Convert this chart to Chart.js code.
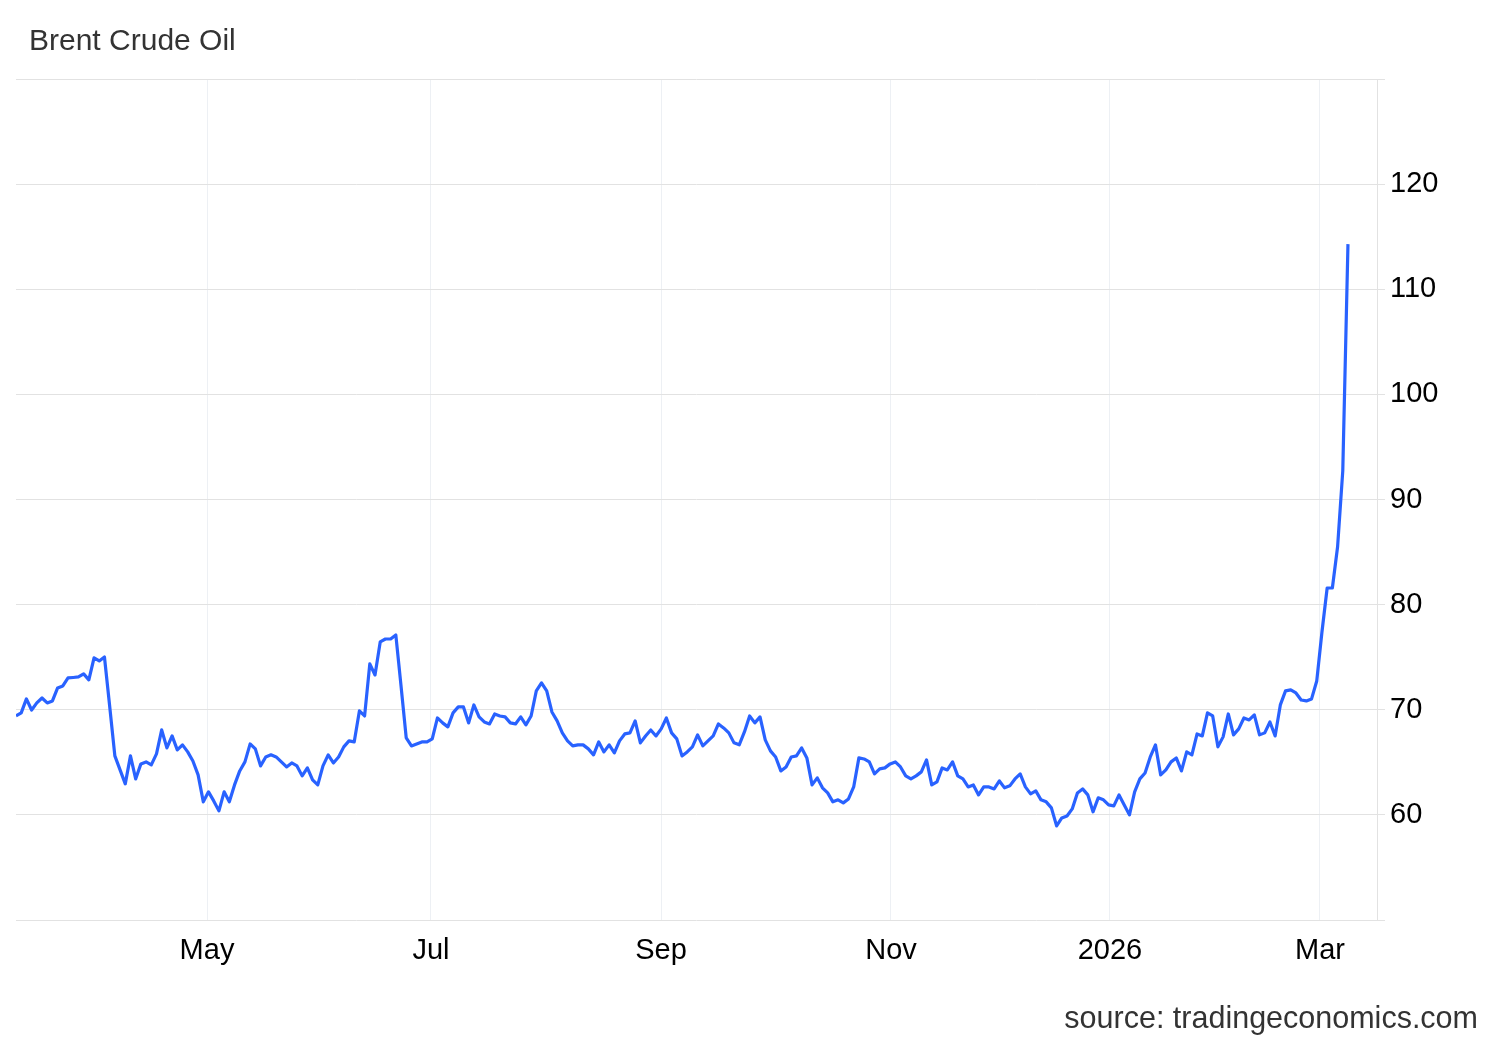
<!DOCTYPE html>
<html>
<head>
<meta charset="utf-8">
<script src="https://cdn.jsdelivr.net/npm/chart.js@4/dist/chart.umd.min.js"></script>
<style>
html,body{margin:0;padding:0;background:#fff;}
#wrap{position:relative;width:1500px;height:1040px;overflow:hidden;}
canvas{position:absolute;left:0;top:0;}
.title{position:absolute;left:29px;top:24.6px;font:30px/30px "Liberation Sans",Arial,Helvetica,sans-serif;color:#333;white-space:nowrap;}
.source{position:absolute;right:22px;top:1001.5px;font:30.5px/30px "Liberation Sans",Arial,Helvetica,sans-serif;color:#333;white-space:nowrap;}
</style>
</head>
<body>
<div id="wrap">
  <canvas id="c" width="1500" height="1040"></canvas>
  <div class="title">Brent Crude Oil</div>
  <div class="source">source: tradingeconomics.com</div>
</div>
<script>
// Brent Crude Oil, daily closes (USD/bbl), by period
const pricesMarApr2025 = [69.41, 69.70, 71.03, 69.98, 70.65, 71.12, 70.65, 70.84, 72.08, 72.27, 73.03, 73.07, 73.12, 73.41, 72.84, 74.93, 74.64, 75.02, 70.36, 65.61, 64.28, 62.95, 65.61, 63.42, 64.85, 65.04, 64.75, 65.80, 68.08, 66.37, 67.51, 66.18, 66.66, 65.99, 65.13, 63.80, 61.24];
const pricesMayJun2025 = [62.19, 61.33, 60.38, 62.19, 61.24, 62.85, 64.18, 65.04, 66.75, 66.28, 64.66, 65.51, 65.71, 65.51, 65.04, 64.56, 64.94, 64.66, 63.71, 64.47, 63.33, 62.85, 64.66, 65.71, 64.94, 65.51, 66.47, 67.04, 66.94, 69.89, 69.41, 74.36, 73.31, 76.45, 76.73, 76.73, 77.12, 72.27, 67.32, 66.56, 66.75, 66.94, 66.94];
const pricesJulAug2025 = [67.23, 69.22, 68.75, 68.37, 69.70, 70.27, 70.27, 68.75, 70.46, 69.32, 68.84, 68.65, 69.60, 69.41, 69.32, 68.75, 68.65, 69.32, 68.56, 69.41, 71.79, 72.55, 71.79, 69.79, 68.94, 67.80, 67.04, 66.56, 66.66, 66.66, 66.28, 65.71, 66.94, 65.99, 66.66, 65.90, 67.04, 67.70, 67.80, 68.94, 66.85, 67.51, 68.08, 67.51];
const pricesSepOct2025 = [68.18, 69.22, 67.80, 67.23, 65.61, 65.99, 66.47, 67.61, 66.56, 67.04, 67.51, 68.65, 68.27, 67.80, 66.85, 66.66, 67.89, 69.41, 68.75, 69.32, 67.13, 66.09, 65.51, 64.18, 64.56, 65.51, 65.61, 66.37, 65.42, 62.85, 63.52, 62.57, 62.09, 61.24, 61.43, 61.14, 61.52, 62.66, 65.42, 65.32, 65.04, 63.90, 64.37, 64.47, 64.85];
const pricesNovDec2025 = [65.04, 64.56, 63.71, 63.42, 63.71, 64.09, 65.23, 62.85, 63.14, 64.47, 64.28, 65.04, 63.71, 63.42, 62.66, 62.85, 61.90, 62.66, 62.66, 62.47, 63.23, 62.57, 62.76, 63.42, 63.90, 62.66, 62.00, 62.28, 61.43, 61.24, 60.67, 58.95, 59.71, 59.90, 60.57, 62.09, 62.47, 61.90, 60.29, 61.62, 61.43, 60.95];
const pricesJanFeb2026 = [60.86, 61.90, 60.95, 60.00, 62.19, 63.42, 63.99, 65.51, 66.66, 63.80, 64.28, 65.04, 65.42, 64.18, 65.99, 65.71, 67.70, 67.51, 69.70, 69.41, 66.47, 67.42, 69.60, 67.61, 68.18, 69.22, 69.03, 69.51, 67.61, 67.80, 68.84, 67.51, 70.46, 71.79, 71.89, 71.60, 70.93, 70.84, 71.03, 72.74];
const pricesMar2026 = [77.40, 81.58, 81.58, 85.48, 92.71, 114.29];

// x axis: trading-day index; month ticks sit between sessions
const tickLabels = ['May', 'Jul', 'Sep', 'Nov', '2026', 'Mar'];
const tickPositions = [36.71, 79.76, 123.97, 168.17, 210.26, 250.62];
const xMax = 261.58;
const yMin = 50, yMax = 130, yStep = 10;

const allPrices = [].concat(pricesMarApr2025, pricesMayJun2025, pricesJulAug2025,
  pricesSepOct2025, pricesNovDec2025, pricesJanFeb2026, pricesMar2026);
const points = allPrices.map((v, i) => ({x: i, y: v}));

const FONT = '"Liberation Sans", Arial, Helvetica, sans-serif';

new Chart(document.getElementById('c'), {
  type: 'line',
  data: {
    datasets: [{
      data: points,
      borderColor: '#2962ff',
      borderWidth: 3.2,
      pointRadius: 0,
      tension: 0,
      fill: false,
      borderJoinStyle: 'round'
    }]
  },
  options: {
    responsive: false,
    animation: false,
    devicePixelRatio: 1,
    layout: {padding: {left: 16, top: 79, right: 0, bottom: 60}},
    plugins: {legend: {display: false}, tooltip: {enabled: false}, title: {display: false}},
    scales: {
      x: {
        type: 'linear',
        min: 0,
        max: xMax,
        afterBuildTicks: s => { s.ticks = tickPositions.map(v => ({value: v})); },
        afterFit: s => { s.height = 60; },
        grid: {color: '#edf0f4', lineWidth: 1, drawTicks: false},
        border: {display: false},
        ticks: {
          autoSkip: false, maxRotation: 0, minRotation: 0, padding: 14,
          color: '#000', font: {family: FONT, size: 29},
          callback: (v, i) => tickLabels[i]
        }
      },
      y: {
        position: 'right',
        min: yMin,
        max: yMax,
        afterFit: s => { s.width = 123; },
        grid: {color: '#e2e2e2', lineWidth: 1, drawTicks: true, tickLength: 8},
        border: {display: true, color: '#e2e2e2', width: 1},
        ticks: {
          stepSize: yStep, padding: 5, color: '#000', font: {family: FONT, size: 29},
          callback: v => (v === yMin || v === yMax) ? '' : String(v)
        }
      }
    }
  }
});
</script>
</body>
</html>
